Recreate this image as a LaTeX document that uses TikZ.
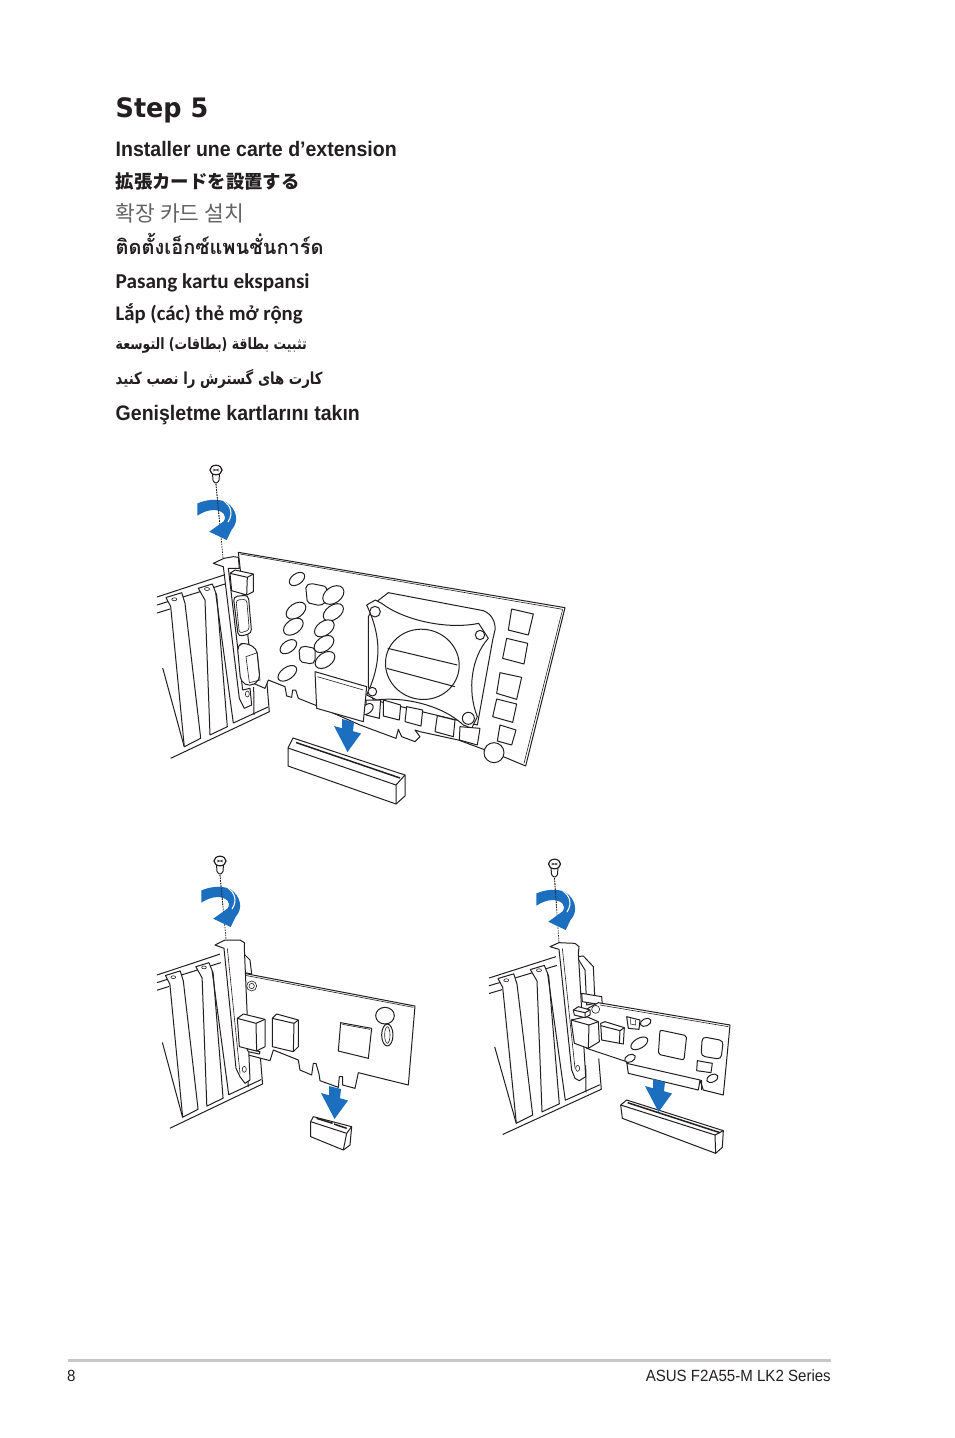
\documentclass[tikz,border=0pt]{standalone}
\usepackage{fontspec}
\usetikzlibrary{calc}
\TeXXeTstate=1
\setmainfont{Liberation Sans}
\newfontfamily\stepfont[FakeStretch=.95]{DejaVu Sans}
\newfontfamily\headfont[FakeStretch=.93]{Liberation Sans}
\newfontfamily\jafont{Noto Sans CJK JP}
\newfontfamily\kofont{Noto Sans CJK KR}
\newfontfamily\thaifont[Script=Thai]{Loma}
\newfontfamily\latinfont{Carlito}
\newfontfamily\arabicfont[Script=Arabic,FakeStretch=.8]{DejaVu Sans}
\definecolor{ink}{RGB}{35,31,32}
\definecolor{asusblue}{RGB}{27,111,190}
\definecolor{rulegray}{RGB}{200,200,200}
\tikzset{
    caption/.style={
        anchor=base west,
        inner sep=0pt,
        text=ink
    },
    part/.style={
        draw=ink,
        line width=1pt,
        fill=white,
        line join=round
    },
    wire/.style={
        draw=ink,
        line width=1pt,
        line join=round
    },
    thin part/.style={
        draw=ink,
        line width=0.6pt
    },
    guide/.style={
        draw=ink,
        line width=0.7pt,
        dash pattern=on 1.6pt off 1pt
    },
    blue part/.style={
        fill=asusblue,
        draw=none
    },
    cropa/.style={shift={(150,460)},scale=1/3},
    cropb/.style={shift={(340,540)},scale=1/3},
    cropc/.style={shift={(150,850)},scale=1/3},
    cropd/.style={shift={(485,850)},scale=1/3}
}
% screw, its dotted path and the turning arrow
\newcommand{\fixscrew}[6]{
	\coordinate (s) at (#1,#2+14);
	\coordinate (e) at (#5,#6);
	\draw [guide] (s) -- (e);
	\begin{scope}[shift={(#3,#4)}]
		\fill [blue part] (197.3,503.5) .. controls (205,500) and (217,498) .. (226,502) .. controls (236,508) and (240,521) .. (231.5,530) -- (226.7,540) -- (209.3,531.7) -- (223.5,521.5) .. controls (228,515) and (222,510.5) .. (214,510) .. controls (208,510) and (202,512.5) .. (197.3,515.7) -- cycle;
		\draw [white, line width=1.1pt] (224,501) .. controls (230,505) and (234,513) .. (228,522);
	\end{scope}
	\draw [guide] (s) -- ($(s)!.47!(e)$);
	\draw [part, rounded corners=1pt] (#1-3.5,#2+3) -- (#1-3,#2+11) -- (#1,#2+13.5) -- (#1+3,#2+11) -- (#1+3.5,#2+3);
	\draw [part, line width=1.2pt] (#1,#2) ellipse [x radius=6, y radius=4.8];
	\draw [thin part] (#1-3,#2-1) -- (#1+3,#2+1) (#1-3,#2+1) -- (#1+3,#2-1);
}
% the case, with its slot covers
\newcommand{\casing}[4]{
	\begin{scope}[shift={(#1,#2)},xscale=#3,yscale=#4]
		\draw [wire] (0,0) -- (67,-22) (0,8) -- (68,-13) (0,16) -- (13,12);
		\draw [wire] (5.7,71) -- (27.3,150);
		\draw [part] (9,.5) -- (24.7,-4.3) -- (28,6.3) -- (43.7,141.3) -- (27.3,149.7) -- (13.7,9.7) -- cycle;
		\draw [thin part] (17.3,2.3) ellipse [x radius=2.5, y radius=1.5];
		\draw [part] (41.3,-8.7) -- (55.3,-13) -- (59.7,-2) -- (70.3,129.7) -- (53,138) -- (48,3) -- cycle;
		\draw [thin part] (50,-8) ellipse [x radius=2.5, y radius=1.5];
		\draw [wire] (58.7,-4) -- (76.3,126) -- (111,110);
		\draw [wire] (96.7,90) -- (97,118);
		\draw [wire] (109.7,83) -- (112.3,114.7) -- (13.7,161.3);
	\end{scope}
}
% blue arrow towards the slot
\newcommand{\dropmark}[2]{
	\fill [blue part, shift={(#1,#2)}] (8,-7) -- (20,-4) -- (19,5.2) -- (27,7.5) -- (13.5,26) -- (0,0) -- (8,2.2) -- cycle;
}
\begin{document}
\begin{tikzpicture}[x=1pt,y=-1pt]
	\useasboundingbox (0,0) rectangle (954,1438);
	\fill [white] (0,0) rectangle (954,1438);

	\node (title) at (115.5,117) [caption, font=\stepfont\bfseries\fontsize{26.8}{26.8}\selectfont] {Step 5};
	\node (fr) at (115.5,156) [caption, font=\headfont\bfseries\fontsize{21}{21}\selectfont] {Installer une carte d’extension};
	\node (ja) at (115.5,188) [caption, font=\jafont\bfseries\fontsize{18.4}{18.4}\selectfont] {拡張カードを設置する};
	\node (ko) at (115.5,221) [caption, text=ink!70, font=\kofont\fontsize{21.5}{21.5}\selectfont] {확장 카드 설치};
	\node (th) at (115.5,254) [caption, font=\thaifont\bfseries\fontsize{20}{20}\selectfont] {ติดตั้งเอ็กซ์แพนชั่นการ์ด};
	\node (id) at (115.5,288) [caption, font=\latinfont\bfseries\fontsize{21.2}{21.2}\selectfont] {Pasang kartu ekspansi};
	\node (vi) at (115.5,320) [caption, font=\latinfont\bfseries\fontsize{20.7}{20.7}\selectfont] {Lắp (các) thẻ mở rộng};
	\node (ar) at (115.5,349) [caption, font=\arabicfont\bfseries\fontsize{15.65}{15.65}\selectfont] {\beginR تثبيت بطاقة (بطاقات) التوسعة\endR};
	\node (fa) at (115.5,384) [caption, font=\arabicfont\bfseries\fontsize{16.6}{16.6}\selectfont] {\beginR كارت هاى گسترش را نصب كنيد\endR};
	\node (tr) at (115.5,420) [caption, font=\headfont\bfseries\fontsize{21}{21}\selectfont] {Genişletme kartlarını takın};

	% long card
	\casing{157}{597}{1}{1}
	\begin{scope}[cropb]
		% board
		\draw [part] (-305,37) -- (675,203) -- (557,678) -- (490,650) -- (355,600) -- (240,575) -- (225,570) -- (240,590) -- (225,605) -- (185,590) -- (175,568) -- (168,595) -- (60,555) -- (-75,495) -- (-125,475) -- (-133,450) -- (-142,450) -- (-145,472) -- (-160,468) -- (-165,440) -- (-215,420) -- (-225,445) -- (-260,430) -- cycle;
		\draw [thin part] (-300,42) -- (668,208);
		\draw [thin part] (668,208) -- (552,670);
		% heat sink
		\draw [part] (145,158) -- (430,212) .. controls (455,222) and (467,245) .. (465,270) -- (458,300) -- (412,555) -- (100,480) -- (85,440) -- (85,230) -- (110,185) -- cycle;
		\draw [part] (80,195) -- (106,180) -- (125,190) .. controls (190,240) and (320,270) .. (416,250) -- (445,295) .. controls (395,350) and (380,450) .. (412,530) -- (395,565) -- (370,555) .. controls (300,490) and (180,470) .. (110,480) -- (80,465) .. controls (125,370) and (125,290) .. (80,195) -- cycle;
		\draw [part] (247,373) ellipse [x radius=111, y radius=105, rotate=-15];
		\draw [wire] (143,325) -- (352,375) (140,385) -- (345,440);
		\foreach \x/\y/\r in {105/215/16, 420/285/14, 97/455/13, 385/535/18}
			\draw [part] (\x,\y) circle [radius=\r];
		% chips
		\draw [part] (515,207) -- (580,222) -- (565,285) -- (505,270) -- cycle;
		\draw [part] (500,295) -- (563,310) -- (552,372) -- (488,355) -- cycle;
		\draw [part] (480,398) -- (545,412) -- (530,478) -- (470,460) -- cycle;
		\draw [part] (470,477) -- (530,492) -- (518,547) -- (458,530) -- cycle;
		\draw [part] (480,555) -- (528,570) -- (515,615) -- (472,603) -- cycle;
		\draw [part] (130,480) -- (182,495) -- (178,540) -- (130,528) -- cycle;
		\draw [part] (200,500) -- (248,510) -- (243,558) -- (195,545) -- cycle;
		\draw [part] (292,527) -- (345,540) -- (340,590) -- (285,575) -- cycle;
		\draw [part] (360,560) -- (420,565) -- (412,615) -- (358,600) -- cycle;
		\draw [part] (462,638) circle [radius=30];
		\draw [part] (78,480) -- (122,480) -- (118,535) -- (78,525) -- cycle;
		\draw [part] (82,507) ellipse [x radius=20, y radius=13, rotate=40];
	\end{scope}
	\begin{scope}[cropa]
		% capacitors
		\draw [part, rounded corners=2pt] (467,378) -- (482,370) -- (530,380) -- (530,425) -- (510,437) -- (472,428) -- cycle;
		\draw [part, rounded corners=2pt] (447,567) -- (460,558) -- (495,565) -- (495,605) -- (485,612) -- (450,605) -- cycle;
		\foreach \x/\y/\a/\b in {441/357/26/16, 550/405/35/24, 438/452/33/21, 430/500/33/21, 550/457/34/21, 523/505/33/21, 522/552/33/21, 525/600/33/21, 415/560/28/17, 412/640/32/18}
			\draw [part] (\x,\y) ellipse [x radius=\a, y radius=\b, rotate=35];
		\draw [part] (495,635) -- (650,680) -- (640,785) -- (500,745) -- cycle;
		\draw [thin part] (502,650) -- (640,690);
		% bracket and its ports
		\draw [part] (190,310) -- (222,295) -- (250,290) -- (265,292) -- (268,325) -- (235,325) -- (278,690) -- (300,685) -- (305,735) -- (283,745) -- (268,715) -- (220,320) -- cycle;
		\draw [thin part] (292,702) ellipse [x radius=6, y radius=9];
		\draw [part] (240,340) -- (255,330) -- (310,342) -- (310,395) -- (290,405) -- (245,392) -- cycle;
		\draw [wire] (240,340) -- (292,352) -- (310,342) (292,352) -- (290,405);
		\draw [part, rounded corners=4pt] (250,410) -- (295,405) -- (305,520) -- (265,530) -- cycle;
		\draw [thin part, rounded corners=3pt] (258,420) -- (290,418) -- (298,510) -- (268,520) -- cycle;
		\draw [part, rounded corners=5pt] (262,555) -- (285,548) -- (320,565) -- (330,660) -- (300,680) -- (272,665) -- cycle;
		\draw [thin part] (288,590) -- (322,578) -- (330,660) -- (298,668) -- cycle;
	\end{scope}
	% long slot
	\draw [part] (293,738) -- (405,775) -- (405,796) -- (396,804) -- (288,766) -- (288,748) -- cycle;
	\draw [wire] (288,748) -- (396,785) -- (405,775) (396,785) -- (396,804);
	\draw [ink, line width=1.5pt] (296,742.5) -- (400,778);
	\dropmark{334}{726}
	\fixscrew{216}{470}{0}{0}{223}{558}

	% short card
	\casing{157}{975}{.94}{.95}
	\begin{scope}[cropc]
		\draw [part] (270,300) -- (300,330) -- (305,372) -- (270,365) -- cycle;
		\draw [part] (272,368) -- (795,468) -- (775,705) -- (625,668) -- (615,715) -- (578,705) -- (578,680) -- (568,680) -- (565,712) -- (510,692) -- (507,672) -- (498,640) -- (490,640) -- (485,675) -- (450,660) -- (445,630) -- (370,600) -- (360,632) -- (295,615) -- cycle;
		\draw [thin part] (280,375) -- (790,472);
		\draw [thin part] (305,408) circle [radius=15];
		\draw [thin part] (305,408) circle [radius=8];
		\draw [part] (195,285) -- (225,270) -- (270,270) -- (283,278) -- (283,295) -- (300,690) -- (285,700) -- (270,680) -- (258,655) -- (222,295) -- cycle;
		\draw [thin part] (232,295) -- (270,670);
		\draw [thin part] (283,658) ellipse [x radius=6, y radius=9];
		\draw [part] (290,595) -- (330,605) -- (328,612) -- (295,605) -- cycle;
		\draw [part] (262,505) -- (280,492) -- (345,508) -- (345,590) -- (320,603) -- (268,590) -- cycle;
		\draw [wire] (262,505) -- (318,520) -- (345,508) (318,520) -- (320,603);
		\draw [part] (367,505) -- (380,492) -- (445,510) -- (445,590) -- (430,605) -- (367,590) -- cycle;
		\draw [wire] (367,505) -- (432,520) -- (445,510) (432,520) -- (430,605);
		\draw [part] (572,518) -- (665,535) -- (655,625) -- (565,603) -- cycle;
		\draw [thin part] (577,523) -- (660,538);
		\draw [part] (705,497) ellipse [x radius=28, y radius=25];
		\draw [part] (712,555) ellipse [x radius=17, y radius=33];
		\draw [thin part] (712,555) ellipse [x radius=8, y radius=25];
		% short slot
		\draw [part] (490,800) -- (605,830) -- (600,885) -- (580,900) -- (482,860) -- (482,815) -- cycle;
		\draw [wire] (482,815) -- (590,850) -- (605,830) (590,850) -- (580,900);
		\draw [ink, line width=1.5pt] (500,805) -- (548,820) (552,822) -- (590,835);
	\end{scope}
	\dropmark{321}{1093}
	\fixscrew{220}{861}{4}{387}{226}{939}

	% card with side connector
	\casing{489}{978}{1}{.97}
	\begin{scope}[cropd]
		\draw [part] (275,320) -- (295,318) -- (325,350) -- (330,460) -- (305,465) -- (300,360) -- cycle;
		\draw [part] (290,430) -- (350,440) -- (352,465) -- (292,455) -- cycle;
		\draw [part] (340,458) -- (735,525) -- (715,735) -- (655,720) -- (645,690) -- (640,720) -- (430,670) -- (425,635) -- (305,595) -- (300,480) -- cycle;
		\draw [thin part] (345,465) -- (730,530);
		\draw [wire] (425,640) -- (645,690) (650,690) -- (650,720);
		\draw [thin part] (332,478) circle [radius=12];
		\draw [part] (195,290) -- (222,278) -- (270,280) -- (282,290) -- (280,310) -- (302,680) -- (283,692) -- (270,685) -- (260,660) -- (222,298) -- cycle;
		\draw [thin part] (232,295) -- (270,655);
		\draw [thin part] (278,655) ellipse [x radius=6, y radius=9];
		\draw [part] (347,520) -- (360,515) -- (418,533) -- (415,582) -- (350,570) -- cycle;
		\draw [wire] (347,527) -- (405,542) -- (418,533) (405,542) -- (403,580);
		\draw [part] (258,510) -- (305,500) -- (340,515) -- (343,575) -- (310,595) -- (268,580) -- cycle;
		\draw [wire] (258,510) -- (312,525) -- (340,515) (312,525) -- (310,595);
		\draw [part] (265,480) -- (280,470) -- (315,480) -- (315,495) -- (300,503) -- (268,495) -- cycle;
		\draw [wire] (265,480) -- (300,488) -- (315,480) (300,488) -- (300,503);
		\draw [part] (425,500) -- (465,510) -- (462,538) -- (430,535) -- cycle;
		\draw [thin part] (437,505) -- (437,522) -- (452,525) -- (452,510);
		\foreach \x/\y/\a/\b/\r in {482/517/17/11/25, 463/580/28/15/30, 435/625/17/11/25, 682/685/18/11/25}
			\draw [part] (\x,\y) ellipse [x radius=\a, y radius=\b, rotate=\r];
		\draw [part, rounded corners=2pt] (525,540) -- (605,557) -- (597,630) -- (520,613) -- cycle;
		\draw [part, rounded corners=4pt] (652,560) -- (715,572) -- (708,628) -- (648,618) -- cycle;
		\draw [part] (637,632) -- (682,640) -- (678,668) -- (635,662) -- cycle;
		% long slot
		\draw [part] (425,750) -- (715,842) -- (712,892) -- (692,910) -- (412,805) -- (407,765) -- cycle;
		\draw [wire] (407,765) -- (690,855) -- (715,842) (690,855) -- (692,910);
		\draw [ink, line width=1.5pt] (428,758) -- (705,848);
	\end{scope}
	\dropmark{645}{1086}
	\fixscrew{554.5}{864}{339}{390}{559}{943}

	% page footer
	\draw [rulegray, line width=3pt] (68,1360.5) -- (831,1360.5);
	\node (page) at (67,1381) [caption, font=\headfont\fontsize{16.2}{16.2}\selectfont] {8};
	\node (series) at (831,1381) [caption, anchor=base east, font=\headfont\fontsize{16.2}{16.2}\selectfont] {ASUS F2A55-M LK2 Series};
\end{tikzpicture}
\end{document}
